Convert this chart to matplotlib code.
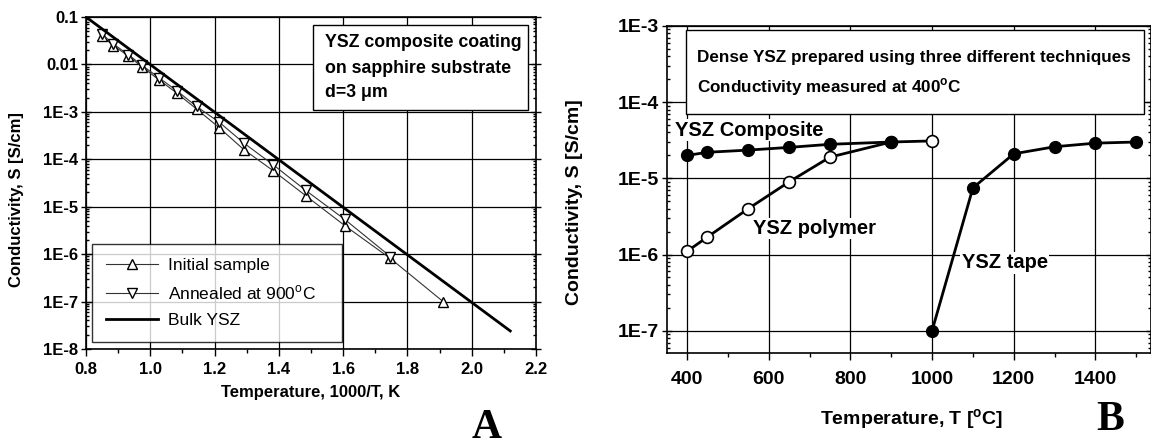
import matplotlib
matplotlib.use("Agg")
import matplotlib.pyplot as plt
import matplotlib.ticker as ticker
from matplotlib.patches import Rectangle

plt.rcParams['font.family'] = ['Liberation Sans', 'DejaVu Sans']
plt.rcParams['mathtext.fontset'] = 'custom'
plt.rcParams['mathtext.rm'] = 'Liberation Sans'
plt.rcParams['mathtext.bf'] = 'Liberation Sans:bold'

# ---- panel A data: conductivity vs 1000/T
invT = [0.849, 0.885, 0.932, 0.975, 1.026, 1.082, 1.144, 1.215, 1.291, 1.383, 1.484, 1.605, 1.747, 1.911]
initial = [0.040, 0.025, 0.015, 0.0088, 0.0048, 0.0025, 1.15e-3, 4.6e-4, 1.6e-4, 5.7e-5, 1.7e-5, 4.0e-6, 8.1e-7, 1.0e-7]
invT_ann = invT[:-1]
annealed = [0.044, 0.027, 0.016, 0.0095, 0.0053, 0.0028, 1.3e-3, 6.0e-4, 2.2e-4, 7.6e-5, 2.2e-5, 5.4e-6, 8.9e-7]
bulk_x = [0.8, 2.12]
bulk_y = [0.1, 2.4e-8]
ylabels_a = ["1E-8", "1E-7", "1E-6", "1E-5", "1E-4", "1E-3", "0.01", "0.1"]

# ---- panel B data: conductivity at 400C vs processing temperature
T_comp = [400, 450, 550, 650, 750, 900]
s_comp = [2.0e-5, 2.2e-5, 2.35e-5, 2.55e-5, 2.8e-5, 3.0e-5]
T_poly = [400, 450, 550, 650, 750, 900, 1000]
s_poly = [1.1e-6, 1.7e-6, 4.0e-6, 9.0e-6, 1.9e-5, 3.0e-5, 3.1e-5]
T_tape = [1000, 1100, 1200, 1300, 1400, 1500]
s_tape = [1.0e-7, 7.5e-6, 2.1e-5, 2.6e-5, 2.9e-5, 3.0e-5]
ylabels_b = ["1E-7", "1E-6", "1E-5", "1E-4", "1E-3"]

fig = plt.figure(figsize=(11.51, 4.45), dpi=100)

def style_axes(ax, size):
    for s in ax.spines.values():
        s.set_linewidth(1.2)
    ax.grid(True, which='major', color='black', lw=0.9)
    ax.set_axisbelow(True)
    ax.tick_params(which='both', top=True, right=True, labelsize=size, width=1)
    ax.tick_params(which='major', length=5)
    ax.tick_params(which='minor', length=3)
    ax.tick_params(axis='x', which='both', direction='out', top=False, pad=4)
    ax.tick_params(axis='y', which='major', direction='inout', length=7, pad=2)
    ax.tick_params(axis='y', which='minor', direction='in', length=2)
    for lab in ax.get_xticklabels() + ax.get_yticklabels():
        lab.set_fontweight('bold')

# ================= panel A
axA = fig.add_axes([86 / 1151, 96 / 445, 450 / 1151, 332 / 445])
axA.set_yscale('log')
axA.set_xlim(0.8, 2.2)
axA.set_ylim(1e-8, 0.1)
axA.plot(invT, initial, '-', color='#333333', lw=0.8, marker='^', ms=7.5,
         mfc='white', mec='black', mew=1, label='Initial sample', zorder=3)
axA.plot(invT_ann, annealed, '-', color='#333333', lw=0.8, marker='v', ms=7.5,
         mfc='white', mec='black', mew=1, label='Annealed at 900$^\\mathrm{o}$C', zorder=3)
axA.plot(bulk_x, bulk_y, '-', color='black', lw=2, label='Bulk YSZ', zorder=4)
axA.xaxis.set_major_locator(ticker.MultipleLocator(0.2))
axA.xaxis.set_minor_locator(ticker.MultipleLocator(0.1))
axA.xaxis.set_major_formatter(ticker.FormatStrFormatter('%.1f'))
axA.yaxis.set_major_locator(ticker.FixedLocator([10.0 ** k for k in range(-8, 0)]))
axA.yaxis.set_major_formatter(ticker.FixedFormatter(ylabels_a))
axA.yaxis.set_minor_locator(ticker.LogLocator(base=10, subs=range(2, 10), numticks=20))
axA.yaxis.set_minor_formatter(ticker.NullFormatter())
style_axes(axA, 12)
axA.set_xlabel('Temperature, 1000/T, K', fontsize=12, fontweight='bold')
axA.set_ylabel('Conductivity, S [S/cm]', fontsize=12, fontweight='bold')
axA.xaxis.set_label_coords(0.5, -0.108)
axA.yaxis.set_label_coords(-0.138, 0.45)

leg = axA.legend(loc='lower left', bbox_to_anchor=(0.013, 0.021, 0.556, 0.2), mode='expand',
                 fontsize=12.5, handlelength=3.0, frameon=True, fancybox=False,
                 borderpad=0.8, labelspacing=0.6, handletextpad=0.6, borderaxespad=0)
leg.get_frame().set_edgecolor('black')
leg.get_frame().set_linewidth(1)
leg.set_zorder(5)

axA.add_patch(Rectangle((0.504, 0.72), 0.478, 0.256, transform=axA.transAxes,
                        facecolor='white', edgecolor='black', lw=1, zorder=5))
boxA_lines = ['YSZ composite coating', 'on sapphire substrate', 'd=3 \u03bcm']
for txt, yy in zip(boxA_lines, [0.922, 0.846, 0.774]):
    axA.text(0.531, yy, txt, transform=axA.transAxes, fontsize=12.8, fontweight='bold',
             va='center', ha='left', zorder=6)

# ================= panel B
axB = fig.add_axes([667 / 1151, 92 / 445, 484 / 1151, 327 / 445])
axB.set_yscale('log')
axB.set_xlim(351, 1536)
axB.set_ylim(5.1e-8, 1e-3)
axB.plot(T_poly, s_poly, '-', color='black', lw=2, marker='o', ms=8.5,
         mfc='white', mec='black', mew=1.2, zorder=3)
axB.plot(T_comp, s_comp, '-', color='black', lw=2, marker='o', ms=8.5,
         mfc='black', mec='black', zorder=4)
axB.plot(T_tape, s_tape, '-', color='black', lw=2, marker='o', ms=8.5,
         mfc='black', mec='black', zorder=4)
axB.xaxis.set_major_locator(ticker.MultipleLocator(200))
axB.xaxis.set_minor_locator(ticker.MultipleLocator(100))
axB.yaxis.set_major_locator(ticker.FixedLocator([10.0 ** k for k in range(-7, -2)]))
axB.yaxis.set_major_formatter(ticker.FixedFormatter(ylabels_b))
axB.yaxis.set_minor_locator(ticker.LogLocator(base=10, subs=range(2, 10), numticks=20))
axB.yaxis.set_minor_formatter(ticker.NullFormatter())
style_axes(axB, 14)
axB.tick_params(axis='x', pad=8)
axB.set_xlabel('Temperature, T [$^\\mathbf{o}$C]', fontsize=14, fontweight='bold')
axB.set_ylabel('Conductivity, S [S/cm]', fontsize=14, fontweight='bold')
axB.xaxis.set_label_coords(0.505, -0.165)
axB.yaxis.set_label_coords(-0.174, 0.46)

axB.add_patch(Rectangle((0.039, 0.731), 0.947, 0.257, transform=axB.transAxes,
                        facecolor='white', edgecolor='black', lw=1, zorder=5))
axB.text(0.062, 0.905, 'Dense YSZ prepared using three different techniques',
         transform=axB.transAxes, fontsize=12.3, fontweight='bold', va='center', zorder=6)
axB.text(0.062, 0.813, 'Conductivity measured at 400$^\\mathbf{o}$C',
         transform=axB.transAxes, fontsize=12.3, fontweight='bold', va='center', zorder=6)

lab_box = dict(facecolor='white', edgecolor='none', pad=1)
axB.text(371, 4.3e-5, 'YSZ Composite', fontsize=14.5, fontweight='bold', va='center', bbox=lab_box, zorder=5)
axB.text(561, 2.2e-6, 'YSZ polymer', fontsize=14.5, fontweight='bold', va='center', bbox=lab_box, zorder=5)
axB.text(1073, 7.8e-7, 'YSZ tape', fontsize=14.5, fontweight='bold', va='center', bbox=lab_box, zorder=5)

# panel letters
fig.text(487 / 1151, 7 / 445, 'A', fontsize=30, fontweight='bold', family='Liberation Serif',
         ha='center', va='baseline')
fig.text(1110 / 1151, 15 / 445, 'B', fontsize=30, fontweight='bold', family='Liberation Serif',
         ha='center', va='baseline')

fig.savefig('out.png', dpi=100)
